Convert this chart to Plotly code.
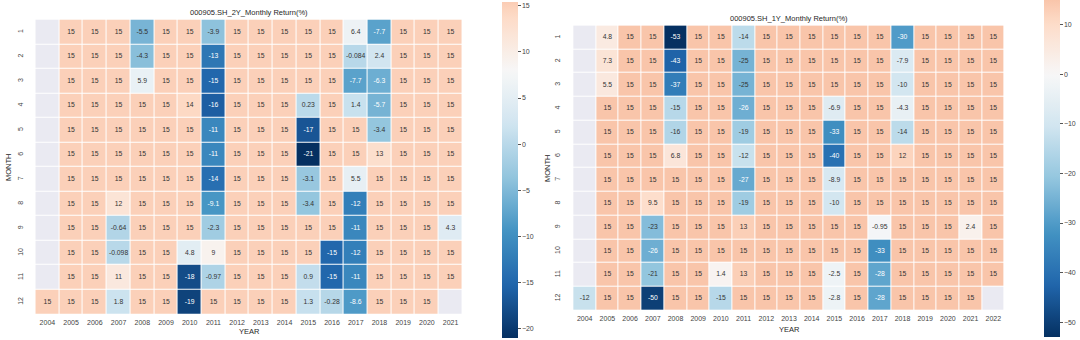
import math
import plotly.graph_objects as go

N = None
years_2y = [str(y) for y in range(2004, 2022)]
years_1y = [str(y) for y in range(2004, 2023)]
months = [str(m) for m in range(1, 13)]

ret_2y = [
    [N, 15, 15, 15, -5.5, 15, 15, -3.9, 15, 15, 15, 15, 15, 6.4, -7.7, 15, 15, 15],
    [N, 15, 15, 15, -4.3, 15, 15, -13, 15, 15, 15, 15, 15, -0.084, 2.4, 15, 15, 15],
    [N, 15, 15, 15, 5.9, 15, 15, -15, 15, 15, 15, 15, 15, -7.7, -6.3, 15, 15, 15],
    [N, 15, 15, 15, 15, 15, 14, -16, 15, 15, 15, 0.23, 15, 1.4, -5.7, 15, 15, 15],
    [N, 15, 15, 15, 15, 15, 15, -11, 15, 15, 15, -17, 15, 15, -3.4, 15, 15, 15],
    [N, 15, 15, 15, 15, 15, 15, -11, 15, 15, 15, -21, 15, 15, 13, 15, 15, 15],
    [N, 15, 15, 15, 15, 15, 15, -14, 15, 15, 15, -3.1, 15, 5.5, 15, 15, 15, 15],
    [N, 15, 15, 12, 15, 15, 15, -9.1, 15, 15, 15, -3.4, 15, -12, 15, 15, 15, 15],
    [N, 15, 15, -0.64, 15, 15, 15, -2.3, 15, 15, 15, 15, 15, -11, 15, 15, 15, 4.3],
    [N, 15, 15, -0.098, 15, 15, 4.8, 9, 15, 15, 15, 15, -15, -12, 15, 15, 15, 15],
    [N, 15, 15, 11, 15, 15, -18, -0.97, 15, 15, 15, 0.9, -15, -11, 15, 15, 15, 15],
    [15, 15, 15, 1.8, 15, 15, -19, 15, 15, 15, 15, 1.3, -0.28, -8.6, 15, 15, 15, N],
]

ret_1y = [
    [N, 4.8, 15, 15, -53, 15, 15, -14, 15, 15, 15, 15, 15, 15, -30, 15, 15, 15, 15],
    [N, 7.3, 15, 15, -43, 15, 15, -25, 15, 15, 15, 15, 15, 15, -7.9, 15, 15, 15, 15],
    [N, 5.5, 15, 15, -37, 15, 15, -25, 15, 15, 15, 15, 15, 15, -10, 15, 15, 15, 15],
    [N, 15, 15, 15, -15, 15, 15, -26, 15, 15, 15, -6.9, 15, 15, -4.3, 15, 15, 15, 15],
    [N, 15, 15, 15, -16, 15, 15, -19, 15, 15, 15, -33, 15, 15, -14, 15, 15, 15, 15],
    [N, 15, 15, 15, 6.8, 15, 15, -12, 15, 15, 15, -40, 15, 15, 12, 15, 15, 15, 15],
    [N, 15, 15, 15, 15, 15, 15, -27, 15, 15, 15, -8.9, 15, 15, 15, 15, 15, 15, 15],
    [N, 15, 15, 9.5, 15, 15, 15, -19, 15, 15, 15, -10, 15, 15, 15, 15, 15, 15, 15],
    [N, 15, 15, -23, 15, 15, 15, 13, 15, 15, 15, 15, 15, -0.95, 15, 15, 15, 2.4, 15],
    [N, 15, 15, -26, 15, 15, 15, 15, 15, 15, 15, 15, 15, -33, 15, 15, 15, 15, 15],
    [N, 15, 15, -21, 15, 15, 1.4, 13, 15, 15, 15, -2.5, 15, -28, 15, 15, 15, 15, 15],
    [-12, 15, 15, -50, 15, 15, -15, 15, 15, 15, 15, -2.8, 15, -28, 15, 15, 15, 15, N],
]

title_2y = "000905.SH_2Y_Monthly Return(%)"
title_1y = "000905.SH_1Y_Monthly Return(%)"
ticks_2y = [-20, -15, -10, -5, 0, 5, 10, 15]
ticks_1y = [-50, -40, -30, -20, -10, 0, 10]

FONT = "Liberation Sans, Arial, sans-serif"
RDBU_R = ["#053061", "#2166ac", "#4393c3", "#92c5de", "#d1e5f0", "#f7f7f7",
          "#fddbc7", "#f4a582", "#d6604d", "#b2182b", "#67001f"]


def hex2rgb(h):
    return [int(h[i:i + 2], 16) for i in (1, 3, 5)]


def rdbu_r(t):
    t = min(max(t, 0.0), 1.0)
    pos = t * 10
    i = min(int(pos), 9)
    f = pos - i
    a, b = hex2rgb(RDBU_R[i]), hex2rgb(RDBU_R[i + 1])
    return [a[k] + (b[k] - a[k]) * f for k in range(3)]


def make_scale(vmin, vmax, center):
    vrange = max(vmax - center, center - vmin)
    lo, hi = center - vrange, center + vrange
    cmin = (vmin - lo) / (hi - lo)
    cmax = (vmax - lo) / (hi - lo)
    stops = []
    n = 40
    for i in range(n + 1):
        t = i / n
        c = rdbu_r(cmin + t * (cmax - cmin))
        stops.append([t, "rgb(%d,%d,%d)" % tuple(round(v) for v in c)])

    def color_of(v):
        return rdbu_r(cmin + (v - vmin) / (vmax - vmin) * (cmax - cmin))
    return stops, color_of


def lum(rgb):
    out = []
    for c in rgb:
        c = c / 255
        out.append(c / 12.92 if c <= 0.03928 else ((c + 0.055) / 1.055) ** 2.4)
    return 0.2126 * out[0] + 0.7152 * out[1] + 0.0722 * out[2]


def flat(data):
    return [v for row in data for v in row if v is not None]


fig = go.Figure()


def add_panel(data, years, xa, ya, coloraxis, center, top_pad):
    vals = flat(data)
    vmin, vmax = min(vals), max(vals) + top_pad
    scale, color_of = make_scale(vmin, vmax, center)
    mask = [[1 if v is None else None for v in row] for row in data]
    fig.add_trace(go.Heatmap(z=mask, x=years, y=months, xaxis=xa, yaxis=ya,
                             colorscale=[[0, "#eaeaf2"], [1, "#eaeaf2"]],
                             showscale=False, xgap=1, ygap=1, hoverinfo="skip"))
    fig.add_trace(go.Heatmap(z=data, x=years, y=months, xaxis=xa, yaxis=ya,
                             coloraxis=coloraxis, xgap=1, ygap=1))
    xs, ys, txt, cols = [], [], [], []
    for r, row in enumerate(data):
        for c, v in enumerate(row):
            if v is None:
                continue
            xs.append(years[c])
            ys.append(months[r])
            txt.append(f"{v:.2g}")
            cols.append("#333333" if lum(color_of(v)) > 0.408 else "#ffffff")
    fig.add_trace(go.Scatter(x=xs, y=ys, mode="text", text=txt, xaxis=xa, yaxis=ya,
                             textfont=dict(size=6.8, color=cols, family=FONT),
                             hoverinfo="skip", showlegend=False))
    return scale, vmin, vmax


s2, lo2, hi2 = add_panel(ret_2y, years_2y, "x", "y", "coloraxis", 8, 0.4)
s1, lo1, hi1 = add_panel(ret_1y, years_1y, "x2", "y2", "coloraxis2", 0, 0.0)

W, H = 1080, 340
tickfont = dict(size=7, color="#444444", family=FONT)


def cbar(x0, y0, y1, tickvals):
    return dict(x=x0 / W, xanchor="left", y=1 - (y0 + y1) / 2 / H, yanchor="middle",
                len=(y1 - y0) / H, lenmode="fraction", thickness=16, thicknessmode="pixels",
                outlinewidth=0, ticks="outside", ticklen=3, tickcolor="#555555",
                tickvals=tickvals, tickfont=tickfont, xpad=0, ypad=0)


axis_common = dict(showgrid=False, zeroline=False, showline=False, ticks="",
                   tickfont=tickfont, type="category")

fig.update_layout(
    width=W, height=H,
    margin=dict(l=0, r=0, t=0, b=0),
    paper_bgcolor="white", plot_bgcolor="white",
    showlegend=False,
    font=dict(family=FONT, color="#262626"),
    xaxis=dict(domain=[25 / W, 473 / W], anchor="y", categoryorder="array",
               categoryarray=years_2y, **axis_common),
    yaxis=dict(domain=[1 - 317 / H, 1 - 17 / H], anchor="x", autorange="reversed",
               tickangle=-90, categoryorder="array", categoryarray=months, **axis_common),
    xaxis2=dict(domain=[562 / W, 1016 / W], anchor="y2", categoryorder="array",
                categoryarray=years_1y, **axis_common),
    yaxis2=dict(domain=[1 - 313 / H, 1 - 23 / H], anchor="x2", autorange="reversed",
                tickangle=-90, categoryorder="array", categoryarray=months, **axis_common),
    coloraxis=dict(colorscale=s2, cmin=lo2, cmax=hi2, colorbar=cbar(502, 2, 338, ticks_2y)),
    coloraxis2=dict(colorscale=s1, cmin=lo1, cmax=hi1, colorbar=cbar(1044, 0, 337, ticks_1y)),
)

ann = dict(xref="paper", yref="paper", showarrow=False, font=dict(size=7.5, color="#262626", family=FONT))
fig.add_annotation(text=title_2y, x=249 / W, y=1 - 13 / H, xanchor="center", yanchor="middle", **ann)
fig.add_annotation(text=title_1y, x=789 / W, y=1 - 18 / H, xanchor="center", yanchor="middle", **ann)
fig.add_annotation(text="YEAR", x=249 / W, y=1 - 331 / H, xanchor="center", yanchor="middle", **ann)
fig.add_annotation(text="YEAR", x=789 / W, y=1 - 329 / H, xanchor="center", yanchor="middle", **ann)
fig.add_annotation(text="MONTH", x=8 / W, y=1 - 167 / H, xanchor="center", yanchor="middle", textangle=-90, **ann)
fig.add_annotation(text="MONTH", x=547 / W, y=1 - 168 / H, xanchor="center", yanchor="middle", textangle=-90, **ann)

fig.write_html("out.html")
